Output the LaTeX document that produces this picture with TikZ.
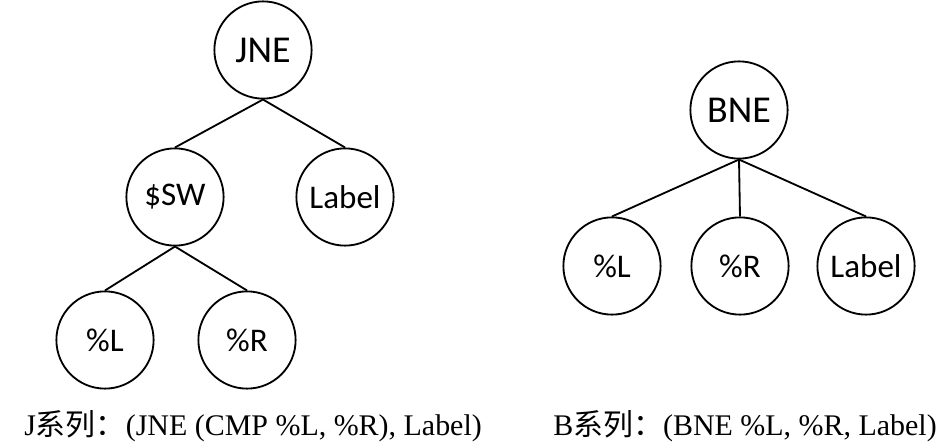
\documentclass[tikz,border=0pt]{standalone}
\usepackage{fontspec}
\setmainfont{Liberation Serif}
\newfontfamily\treefont{Carlito}
\newfontfamily\cjk{Noto Sans CJK SC}
\usepackage{tikz}

\begin{document}
\begin{tikzpicture}[x=0.025cm, y=-0.025cm,
  tnode/.style={draw=black,circle,line width=1.3pt,minimum size=2.43cm,inner sep=0pt,
    font=\treefont\fontsize{23.5}{28}\selectfont},
  troot/.style={tnode,font=\treefont\fontsize{27}{32}\selectfont},
  caption/.style={anchor=base west,inner sep=0pt,font=\fontsize{21.3}{25}\selectfont}]
\useasboundingbox (0,0) rectangle (946,446);

% J tree
\node (jne)[troot] at (263,50) {JNE};
\node (sw)[tnode] at (175,197) {\$SW};
\node (jlabel)[tnode] at (345,197) {Label};
\node (jl)[tnode] at (105,340) {\%L};
\node (jr)[tnode] at (247,340) {\%R};

% B tree
\node (bne)[troot] at (739,110) {BNE};
\node (bl)[tnode] at (612,266) {\%L};
\node (br)[tnode] at (740,266) {\%R};
\node (blabel)[tnode] at (866,266) {Label};

\node (jcap)[caption] at (24,435) {J{\cjk 系列：}(JNE (CMP \%L, \%R), Label)};
\node (bcap)[caption] at (553,435) {B{\cjk 系列：}(BNE \%L, \%R, Label)};

\draw[line width=1.3pt] (jne.south) -- (sw.north);
\draw[line width=1.3pt] (jne.south) -- (jlabel.north);
\draw[line width=1.3pt] (sw.south) -- (jl.north);
\draw[line width=1.3pt] (sw.south) -- (jr.north);
\draw[line width=1.3pt] (bne.south) -- (bl.north);
\draw[line width=1.3pt] (bne.south) -- (br.north);
\draw[line width=1.3pt] (bne.south) -- (blabel.north);
\end{tikzpicture}
\end{document}
